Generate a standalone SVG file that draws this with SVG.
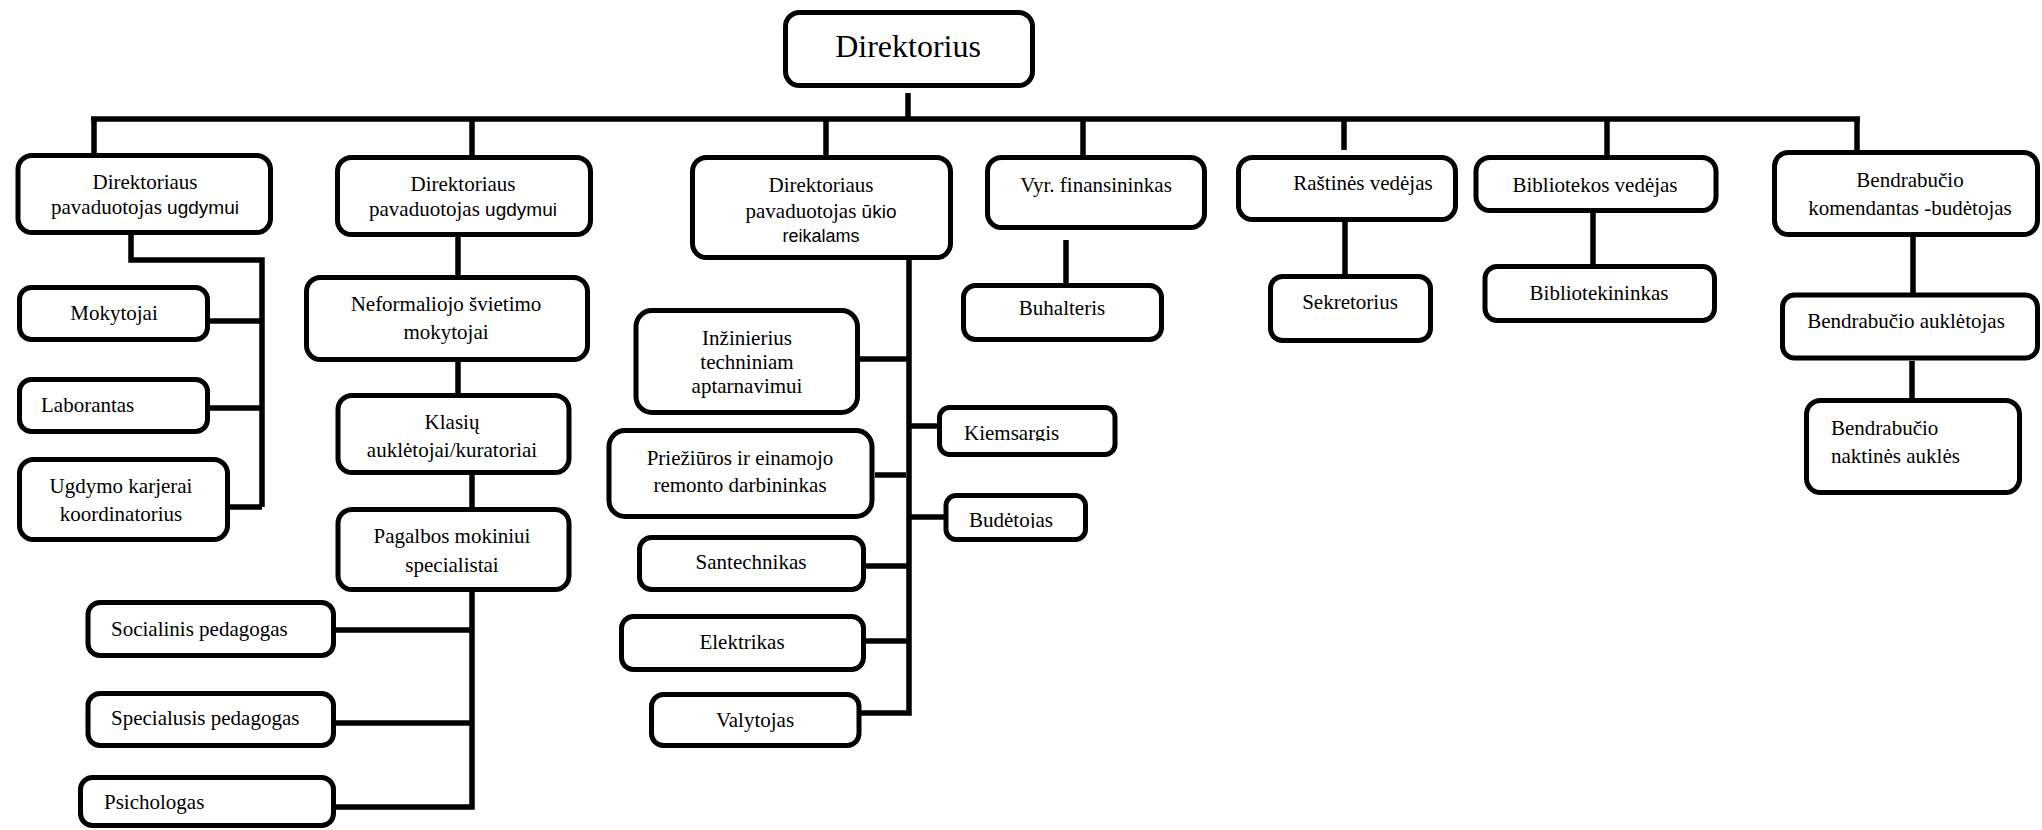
<svg xmlns="http://www.w3.org/2000/svg" width="2042" height="830" viewBox="0 0 2042 830">
<style>
.box{fill:#fff;stroke:#000;stroke-width:5;}
.t{font-family:"Liberation Serif","Times New Roman",serif;font-size:21px;fill:#000;}
.c{text-anchor:middle;}
.s{font-family:"Liberation Sans",Arial,sans-serif;font-size:19px;}
.big{font-size:32px;}
.conn path{fill:none;stroke:#000;stroke-width:5.5;stroke-linejoin:miter;}
</style>
<defs>
<clipPath id="clipKiem"><rect x="940" y="405" width="175" height="36"/></clipPath>
<clipPath id="clipBud"><rect x="946" y="495" width="140" height="33"/></clipPath>
</defs>
<rect width="2042" height="830" fill="#fff"/>
<g class="conn" id="connectors">
<path d="M91,119 H1860"/>
<path d="M908,93 V119"/>
<path d="M94,119 V155"/>
<path d="M472,119 V157"/>
<path d="M826,119 V157"/>
<path d="M1083,119 V157"/>
<path d="M1344,119 V150"/>
<path d="M1607,119 V155"/>
<path d="M1857,119 V150"/>
<path d="M131,235 V260 H262 V507"/>
<path d="M210,321 H262"/>
<path d="M210,408 H262"/>
<path d="M230,507 H262"/>
<path d="M458,237 V277"/>
<path d="M458,362 V395"/>
<path d="M472,475 V509"/>
<path d="M472,592 V807 H336"/>
<path d="M336,630 H472"/>
<path d="M336,723 H472"/>
<path d="M909,260 V713 H861"/>
<path d="M860,359 H909"/>
<path d="M875,475 H906"/>
<path d="M909,426 H939"/>
<path d="M909,517 H946"/>
<path d="M866,566 H909"/>
<path d="M866,641 H909"/>
<path d="M1066,240 V287"/>
<path d="M1345,222 V276"/>
<path d="M1593,213 V266"/>
<path d="M1913,237 V295"/>
<path d="M1912,361 V400"/>
</g>
<g id="direktorius">
<rect class="box" x="785.5" y="12.5" width="247" height="73" rx="14"/>
<text class="t c big" x="908" y="57">Direktorius</text>
</g>
<g id="pav-ugdymui-1">
<rect class="box" x="18" y="155.5" width="252.5" height="77" rx="14"/>
<text class="t c" x="145" y="189">Direktoriaus</text>
<text class="t c" x="145" y="214">pavaduotojas <tspan class="s">ugdymui</tspan></text>
</g>
<g id="pav-ugdymui-2">
<rect class="box" x="337.5" y="157.5" width="253" height="77" rx="14"/>
<text class="t c" x="463" y="191">Direktoriaus</text>
<text class="t c" x="463" y="216">pavaduotojas <tspan class="s">ugdymui</tspan></text>
</g>
<g id="pav-ukio">
<rect class="box" x="692.5" y="157.5" width="258" height="100" rx="14"/>
<text class="t c" x="821" y="192">Direktoriaus</text>
<text class="t c" x="821" y="218">pavaduotojas <tspan class="s">ūkio</tspan></text>
<text class="t c" x="821" y="242"><tspan class="s" style="font-size:18px">reikalams</tspan></text>
</g>
<g id="vyr-finansininkas">
<rect class="box" x="987.5" y="157.5" width="217" height="70" rx="14"/>
<text class="t c" x="1096" y="192">Vyr. finansininkas</text>
</g>
<g id="rastines-vedejas">
<rect class="box" x="1238.5" y="157.5" width="217" height="62" rx="14"/>
<text class="t c" x="1363" y="190">Raštinės vedėjas</text>
</g>
<g id="bibliotekos-vedejas">
<rect class="box" x="1476" y="157.5" width="240" height="53" rx="14"/>
<text class="t c" x="1595" y="192">Bibliotekos vedėjas</text>
</g>
<g id="bendrabucio-komendantas">
<rect class="box" x="1774.5" y="152.5" width="263" height="82" rx="14"/>
<text class="t c" x="1910" y="187">Bendrabučio</text>
<text class="t c" x="1910" y="215">komendantas -budėtojas</text>
</g>
<g id="mokytojai">
<rect class="box" x="19.5" y="287.5" width="188" height="52" rx="12"/>
<text class="t c" x="114" y="320">Mokytojai</text>
</g>
<g id="laborantas">
<rect class="box" x="19.5" y="379.5" width="188" height="52" rx="12"/>
<text class="t" x="41" y="412">Laborantas</text>
</g>
<g id="ugdymo-karjerai">
<rect class="box" x="19.5" y="459.5" width="208" height="80" rx="14"/>
<text class="t c" x="121" y="493">Ugdymo karjerai</text>
<text class="t c" x="121" y="521">koordinatorius</text>
</g>
<g id="neformaliojo">
<rect class="box" x="306.5" y="277.5" width="281" height="82" rx="14"/>
<text class="t c" x="446" y="311">Neformaliojo švietimo</text>
<text class="t c" x="446" y="339">mokytojai</text>
</g>
<g id="klasiu">
<rect class="box" x="338" y="395.5" width="231" height="77" rx="14"/>
<text class="t c" x="452" y="429">Klasių</text>
<text class="t c" x="452" y="457">auklėtojai/kuratoriai</text>
</g>
<g id="pagalbos">
<rect class="box" x="338" y="509.5" width="231" height="80" rx="14"/>
<text class="t c" x="452" y="543">Pagalbos mokiniui</text>
<text class="t c" x="452" y="572">specialistai</text>
</g>
<g id="socialinis">
<rect class="box" x="88" y="602.5" width="245.5" height="53" rx="12"/>
<text class="t" x="111" y="636">Socialinis pedagogas</text>
</g>
<g id="specialusis">
<rect class="box" x="88" y="693.5" width="245.5" height="52" rx="12"/>
<text class="t" x="111" y="725">Specialusis pedagogas</text>
</g>
<g id="psichologas">
<rect class="box" x="80.5" y="777.5" width="253" height="48" rx="12"/>
<text class="t" x="104" y="809">Psichologas</text>
</g>
<g id="inzinierius">
<rect class="box" x="636" y="310.5" width="221.5" height="102" rx="16"/>
<text class="t c" x="747" y="345">Inžinierius</text>
<text class="t c" x="747" y="369">techniniam</text>
<text class="t c" x="747" y="393">aptarnavimui</text>
</g>
<g id="prieziuros">
<rect class="box" x="609" y="430.5" width="263" height="86" rx="16"/>
<text class="t c" x="740" y="465">Priežiūros ir einamojo</text>
<text class="t c" x="740" y="492">remonto darbininkas</text>
</g>
<g id="santechnikas">
<rect class="box" x="639.5" y="537.5" width="224" height="52" rx="12"/>
<text class="t c" x="751" y="569">Santechnikas</text>
</g>
<g id="elektrikas">
<rect class="box" x="621.5" y="616.5" width="242" height="53" rx="12"/>
<text class="t c" x="742" y="649">Elektrikas</text>
</g>
<g id="valytojas">
<rect class="box" x="651.5" y="694.5" width="207.5" height="51" rx="12"/>
<text class="t c" x="755" y="727">Valytojas</text>
</g>
<g id="buhalteris">
<rect class="box" x="963.5" y="285.5" width="198" height="54" rx="12"/>
<text class="t c" x="1062" y="315">Buhalteris</text>
</g>
<g id="kiemsargis">
<rect class="box" x="939.5" y="407.5" width="175.5" height="47" rx="10"/>
<text class="t" x="964" y="439.5" clip-path="url(#clipKiem)">Kiemsargis</text>
</g>
<g id="budetojas">
<rect class="box" x="946" y="495.5" width="139.5" height="44" rx="10"/>
<text class="t" x="969" y="527" clip-path="url(#clipBud)">Budėtojas</text>
</g>
<g id="sekretorius">
<rect class="box" x="1270.5" y="276.5" width="160" height="64" rx="12"/>
<text class="t c" x="1350" y="309">Sekretorius</text>
</g>
<g id="bibliotekininkas">
<rect class="box" x="1485" y="266.5" width="229.5" height="54" rx="12"/>
<text class="t c" x="1599" y="300">Bibliotekininkas</text>
</g>
<g id="bendrabucio-aukletojas">
<rect class="box" x="1782.5" y="295" width="255" height="63" rx="12"/>
<text class="t c" x="1906" y="328">Bendrabučio auklėtojas</text>
</g>
<g id="naktines-aukles">
<rect class="box" x="1806.5" y="400.5" width="213" height="92" rx="14"/>
<text class="t" x="1831" y="435">Bendrabučio</text>
<text class="t" x="1831" y="463">naktinės auklės</text>
</g>
</svg>
